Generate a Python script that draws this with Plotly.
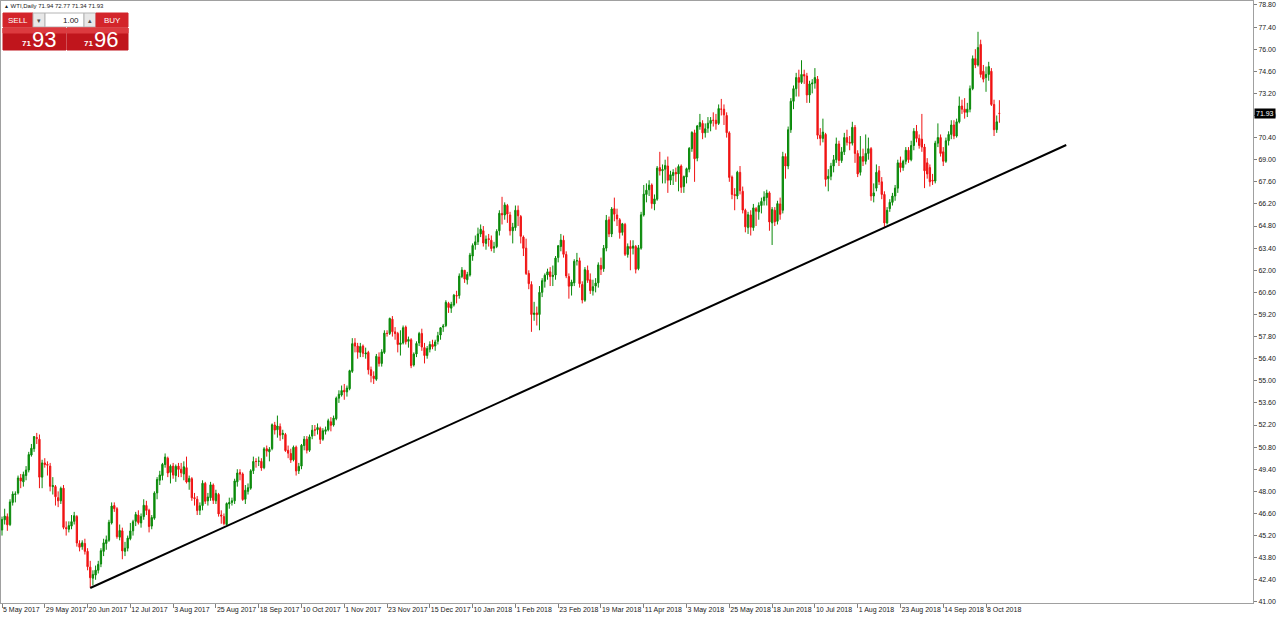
import pandas as pd
import plotly.graph_objects as go

# WTI daily bars, 5 May 2017 .. 15 Oct 2018 (weekdays, broker closed on these days)
holidays = ["2017-12-25", "2018-01-01", "2018-03-30"]
dates = [d.strftime("%Y-%m-%d") for d in pd.bdate_range("2017-05-05", "2018-10-15")
         if d.strftime("%Y-%m-%d") not in holidays]

# one row = 16 bars (one time-axis label step)
opens = [
    45.55, 46.20, 46.40, 45.90, 47.30, 47.80, 47.90, 48.85, 48.60, 49.00, 49.35, 50.30, 50.70, 51.40, 51.30, 48.90,
    49.80, 49.70, 49.60, 48.30, 48.30, 47.60, 47.40, 48.20, 45.70, 45.60, 45.80, 46.10, 46.40, 44.70, 44.50, 44.70,
    44.20, 43.20, 42.50, 42.70, 43.00, 43.40, 44.20, 44.70, 44.90, 46.00, 47.10, 46.90, 45.10, 45.50, 44.20, 44.40,
    45.00, 45.50, 46.10, 46.50, 46.00, 46.40, 47.10, 46.80, 45.80, 46.30, 47.90, 48.70, 49.00, 49.70, 50.10, 49.20,
    49.60, 49.00, 49.60, 49.40, 49.10, 49.50, 48.60, 48.80, 47.60, 47.50, 46.80, 47.10, 48.50, 47.40, 47.60, 48.40,
    47.40, 47.80, 46.50, 46.40, 45.90, 47.20, 47.30, 47.40, 48.60, 49.20, 49.10, 47.50, 48.00, 48.20, 49.30, 49.90,
    49.90, 49.90, 49.50, 50.70, 50.50, 50.70, 52.20, 51.90, 52.10, 51.60, 51.60, 50.60, 50.40, 50.00, 50.80, 49.30,
    49.60, 50.90, 51.30, 50.60, 51.50, 51.90, 51.90, 52.00, 51.30, 51.80, 51.90, 52.40, 52.20, 52.60, 53.90, 54.10,
    54.40, 54.30, 54.50, 55.60, 57.40, 57.20, 56.80, 57.20, 56.70, 56.80, 55.70, 55.30, 55.10, 56.50, 56.10, 56.80,
    58.00, 58.00, 58.90, 58.10, 58.00, 57.30, 57.40, 58.40, 57.50, 57.60, 56.00, 56.70, 57.40, 58.00, 57.10, 56.60,
    57.00, 57.30, 57.20, 57.50, 57.90, 58.40, 58.50, 59.90, 59.60, 59.80, 60.40, 60.40, 61.60, 62.00, 61.40, 61.70,
    62.90, 63.60, 63.80, 64.30, 64.50, 63.70, 64.00, 63.90, 63.40, 63.50, 64.50, 65.60, 65.50, 66.10, 65.50, 64.50,
    64.70, 65.80, 65.40, 64.10, 63.40, 61.80, 61.10, 59.20, 59.30, 59.20, 60.60, 61.30, 61.70, 61.90, 61.60, 61.70,
    62.80, 63.50, 63.90, 63.00, 61.60, 61.00, 61.20, 62.60, 62.60, 61.10, 60.10, 62.00, 61.40, 60.70, 61.00, 61.20,
    62.30, 62.10, 63.40, 65.20, 64.30, 65.90, 65.50, 65.20, 64.40, 64.90, 63.00, 63.50, 63.40, 63.50, 62.10, 63.40,
    65.50, 66.80, 67.10, 67.40, 66.20, 66.50, 68.50, 68.30, 68.40, 68.60, 67.70, 68.00, 68.20, 68.10, 68.60, 67.30,
    67.90, 68.40, 69.70, 70.70, 69.10, 71.10, 71.30, 70.70, 71.00, 71.30, 71.50, 71.50, 71.30, 72.20, 72.20, 71.80,
    70.70, 67.90, 66.80, 66.70, 68.20, 67.00, 65.80, 64.70, 65.50, 64.70, 65.90, 65.70, 66.10, 66.40, 66.60, 66.90,
    65.00, 65.80, 65.10, 66.20, 65.80, 69.20, 68.60, 70.90, 72.70, 73.50, 74.20, 73.90, 74.40, 74.30, 73.10, 73.80,
    73.85, 74.10, 70.55, 70.35, 70.60, 67.80, 67.95, 68.60, 69.00, 70.00, 68.95, 69.50, 70.40, 70.10, 70.05, 71.05,
    69.40, 68.20, 69.20, 68.90, 69.40, 69.70, 66.70, 67.20, 68.30, 67.60, 66.80, 65.00, 65.90, 66.30, 66.70, 67.20,
    68.80, 68.50, 68.90, 69.60, 69.00, 69.90, 70.80, 70.35, 70.30, 69.80, 68.80, 68.50, 67.70, 67.65, 70.05, 70.40,
    69.50, 68.90, 70.20, 70.60, 71.20, 70.50, 71.40, 72.40, 72.20, 72.00, 72.20, 73.50, 75.40, 75.00, 76.30, 74.60,
    74.20, 74.40, 74.60, 72.50, 70.90, 71.94,
]
highs = [
    46.40, 46.90, 46.60, 47.50, 48.00, 48.00, 49.00, 49.10, 49.25, 49.60, 50.50, 51.00, 51.50, 51.70, 51.60, 50.00,
    50.10, 49.90, 49.80, 48.90, 48.40, 48.00, 48.30, 48.40, 46.10, 46.10, 46.50, 46.70, 46.50, 44.90, 44.90, 45.00,
    44.40, 43.60, 43.00, 43.30, 43.60, 44.40, 45.00, 45.20, 46.20, 47.30, 47.30, 47.00, 45.90, 45.70, 44.80, 45.20,
    46.00, 46.20, 46.70, 46.80, 46.60, 47.50, 47.40, 46.90, 46.50, 48.00, 48.90, 49.30, 49.80, 50.40, 50.20, 49.70,
    49.80, 49.70, 49.80, 49.80, 49.90, 50.20, 49.00, 48.90, 47.90, 47.70, 47.30, 48.70, 48.60, 47.90, 48.60, 48.50,
    48.10, 47.90, 46.80, 46.60, 47.30, 47.60, 47.60, 48.80, 49.40, 49.40, 49.20, 48.40, 48.50, 49.40, 50.20, 50.10,
    50.20, 50.10, 50.80, 50.90, 50.80, 52.30, 52.40, 52.80, 52.30, 51.90, 51.70, 50.90, 50.70, 50.90, 50.90, 49.80,
    51.00, 51.50, 51.50, 51.60, 52.20, 52.20, 52.30, 52.10, 52.00, 52.10, 52.60, 52.70, 52.80, 54.00, 54.40, 54.70,
    54.80, 54.70, 55.70, 57.70, 57.70, 57.40, 57.40, 57.30, 57.10, 56.90, 55.90, 55.60, 56.70, 56.80, 57.00, 58.20,
    58.20, 59.00, 59.10, 58.40, 58.10, 58.20, 58.50, 58.50, 57.80, 57.70, 56.80, 57.50, 58.10, 58.30, 57.40, 57.20,
    57.50, 57.60, 57.60, 58.10, 58.40, 58.60, 60.10, 60.00, 60.00, 60.50, 60.70, 61.80, 62.20, 62.00, 61.90, 63.10,
    63.70, 64.20, 64.70, 64.90, 64.80, 64.20, 64.30, 64.20, 63.80, 64.60, 65.80, 66.65, 66.30, 66.20, 65.70, 65.00,
    66.10, 66.10, 65.50, 64.20, 64.00, 62.00, 61.30, 60.00, 59.70, 61.00, 61.50, 61.80, 62.10, 62.20, 62.30, 62.90,
    63.60, 64.30, 64.20, 63.20, 61.80, 61.40, 62.70, 63.10, 62.80, 61.30, 62.20, 62.30, 61.80, 61.40, 61.50, 62.50,
    62.80, 63.60, 65.50, 65.40, 66.00, 66.60, 65.90, 65.30, 65.00, 65.00, 63.70, 63.90, 63.90, 63.60, 63.60, 65.70,
    67.40, 67.50, 67.70, 67.50, 66.80, 68.60, 69.50, 68.70, 69.00, 69.20, 68.30, 68.40, 68.50, 68.70, 68.70, 68.00,
    68.50, 69.80, 70.80, 70.90, 71.20, 71.90, 71.50, 71.30, 71.70, 71.70, 72.00, 71.90, 72.50, 72.85, 72.50, 72.00,
    70.80, 68.00, 67.20, 68.30, 68.60, 67.30, 65.90, 65.70, 65.80, 66.20, 66.00, 66.30, 66.60, 67.00, 67.10, 67.00,
    66.00, 66.00, 66.40, 66.60, 69.50, 69.40, 71.10, 72.90, 73.70, 74.50, 74.70, 75.30, 74.70, 74.50, 74.00, 74.10,
    74.80, 74.30, 71.00, 71.60, 70.70, 68.40, 68.80, 69.30, 70.40, 70.20, 69.80, 70.70, 70.90, 70.50, 71.40, 71.20,
    69.60, 70.50, 69.70, 70.60, 70.40, 69.80, 67.50, 68.70, 68.60, 67.90, 67.00, 66.00, 66.50, 66.90, 67.40, 69.00,
    69.20, 69.00, 69.80, 69.80, 70.20, 71.00, 71.20, 70.60, 71.90, 70.00, 69.10, 68.70, 68.10, 70.20, 71.30, 70.60,
    69.80, 70.40, 70.80, 71.50, 71.50, 71.60, 73.00, 72.80, 72.90, 72.60, 73.70, 75.60, 76.00, 77.10, 76.60, 75.00,
    74.90, 75.20, 74.80, 72.80, 71.80, 72.77,
]
lows = [
    45.20, 45.90, 45.50, 45.80, 47.10, 47.30, 47.80, 48.20, 48.30, 48.70, 49.20, 50.20, 50.50, 51.00, 48.20, 48.20,
    49.50, 49.00, 48.00, 47.80, 47.10, 47.00, 47.20, 45.60, 45.20, 45.40, 45.60, 45.90, 44.50, 44.20, 44.30, 44.00,
    43.00, 41.90, 42.05, 42.40, 42.80, 43.20, 43.90, 44.30, 44.80, 45.90, 46.70, 45.00, 44.90, 43.70, 43.90, 44.20,
    44.90, 45.20, 45.80, 45.90, 45.70, 46.20, 46.50, 45.40, 45.60, 46.20, 47.50, 48.40, 48.70, 49.50, 48.90, 48.50,
    48.80, 48.60, 48.90, 48.90, 48.70, 48.50, 48.10, 47.40, 47.10, 46.50, 46.50, 46.80, 47.20, 47.10, 47.40, 47.20,
    47.20, 46.40, 45.95, 45.85, 45.95, 46.90, 47.10, 47.20, 48.30, 48.70, 47.40, 47.20, 47.80, 48.10, 49.10, 49.50,
    49.60, 49.30, 49.40, 50.20, 49.90, 50.60, 51.60, 51.40, 51.20, 51.30, 50.50, 50.10, 49.80, 49.90, 49.00, 49.10,
    49.40, 50.60, 50.40, 50.50, 51.30, 51.50, 51.60, 51.00, 51.20, 51.60, 51.80, 51.80, 52.10, 52.50, 53.60, 54.00,
    53.80, 54.00, 54.40, 55.50, 56.80, 56.40, 56.50, 56.50, 56.40, 55.40, 54.90, 54.80, 55.00, 55.90, 55.90, 56.70,
    57.80, 57.90, 57.80, 57.60, 56.80, 56.60, 57.30, 57.30, 57.10, 55.80, 55.90, 56.50, 57.20, 56.90, 56.10, 56.40,
    56.80, 57.00, 56.90, 57.30, 57.60, 58.10, 58.40, 59.30, 59.30, 59.70, 59.90, 60.20, 61.50, 61.20, 61.10, 61.60,
    62.60, 63.30, 63.60, 64.10, 63.50, 63.30, 63.50, 63.20, 63.10, 63.40, 64.20, 64.90, 65.20, 65.00, 64.20, 63.70,
    64.50, 64.80, 63.70, 62.90, 61.70, 60.80, 58.10, 58.80, 58.50, 58.20, 60.30, 60.90, 61.40, 61.00, 61.00, 61.40,
    62.50, 63.20, 62.80, 61.50, 60.20, 60.40, 61.00, 62.30, 60.90, 59.90, 60.00, 61.20, 60.50, 60.40, 60.60, 60.90,
    61.70, 61.90, 63.20, 64.10, 64.10, 65.10, 64.80, 64.00, 64.20, 62.90, 62.80, 62.00, 63.00, 61.80, 62.00, 63.30,
    65.40, 66.30, 66.70, 65.90, 65.80, 66.40, 68.00, 67.50, 67.50, 66.90, 67.40, 67.40, 67.60, 67.00, 66.90, 66.90,
    67.50, 68.20, 69.50, 67.60, 68.90, 70.90, 70.30, 70.40, 70.70, 70.80, 71.10, 70.90, 71.20, 71.80, 71.20, 70.40,
    67.60, 66.50, 65.80, 66.50, 66.80, 65.60, 64.40, 64.30, 64.20, 64.50, 64.80, 65.20, 65.60, 66.10, 66.10, 64.50,
    63.60, 64.80, 64.90, 65.20, 65.60, 67.80, 68.40, 70.70, 72.20, 73.00, 73.00, 73.80, 73.80, 72.60, 72.60, 73.20,
    73.50, 70.30, 69.90, 70.10, 67.30, 67.00, 67.70, 68.20, 68.80, 68.60, 68.80, 69.30, 69.90, 69.60, 69.90, 68.80,
    67.90, 68.00, 68.60, 68.70, 69.00, 66.40, 66.30, 67.00, 67.40, 66.50, 64.75, 64.90, 65.70, 66.10, 66.40, 66.90,
    68.20, 68.30, 68.70, 68.80, 68.90, 69.60, 70.10, 69.70, 69.50, 67.20, 67.80, 67.30, 67.40, 67.50, 69.80, 69.20,
    68.60, 68.80, 69.90, 70.30, 70.30, 70.40, 71.30, 71.90, 71.60, 71.70, 72.00, 73.40, 74.80, 74.90, 74.20, 73.90,
    73.30, 74.00, 72.40, 70.50, 70.70, 71.34,
]
closes = [
    46.22, 46.43, 45.88, 47.33, 47.83, 47.84, 48.85, 48.66, 49.07, 49.35, 50.33, 50.73, 51.47, 51.36, 48.90, 49.80,
    49.70, 49.66, 48.32, 48.36, 47.66, 47.40, 48.19, 45.72, 45.64, 45.83, 46.08, 46.46, 44.73, 44.46, 44.74, 44.20,
    43.23, 42.53, 42.74, 43.01, 43.38, 44.24, 44.74, 44.93, 46.04, 47.07, 46.90, 45.13, 45.52, 44.23, 44.40, 45.04,
    45.49, 46.08, 46.54, 46.02, 46.40, 47.12, 46.79, 45.77, 46.34, 47.89, 48.75, 49.04, 49.71, 50.17, 49.16, 49.59,
    49.03, 49.58, 49.39, 49.17, 49.56, 48.59, 48.82, 47.59, 47.55, 46.78, 47.09, 48.51, 47.37, 47.64, 48.41, 47.43,
    47.87, 46.57, 46.44, 45.96, 47.23, 47.29, 47.40, 48.66, 49.16, 49.09, 47.48, 48.07, 48.23, 49.30, 49.89, 49.89,
    49.91, 49.48, 50.69, 50.55, 50.66, 52.22, 51.88, 52.14, 51.56, 51.67, 50.58, 50.42, 49.98, 50.79, 49.29, 49.58,
    50.92, 51.30, 50.60, 51.45, 51.87, 51.88, 52.04, 51.29, 51.84, 51.90, 52.47, 52.18, 52.64, 53.90, 54.15, 54.38,
    54.30, 54.54, 55.64, 57.35, 57.20, 56.81, 57.17, 56.74, 56.76, 55.70, 55.33, 55.14, 56.55, 56.09, 56.83, 58.02,
    58.00, 58.95, 58.11, 57.99, 57.30, 57.40, 58.36, 57.47, 57.62, 55.96, 56.69, 57.36, 57.99, 57.14, 56.60, 57.04,
    57.30, 57.16, 57.46, 57.86, 58.36, 58.47, 59.97, 59.64, 59.84, 60.42, 60.37, 61.63, 62.01, 61.44, 61.73, 62.96,
    63.57, 63.80, 64.30, 64.60, 63.73, 63.97, 63.95, 63.37, 63.49, 64.47, 65.61, 65.51, 66.14, 65.56, 64.50, 64.73,
    65.80, 65.45, 64.15, 63.39, 61.79, 61.15, 59.20, 59.29, 59.19, 60.60, 61.34, 61.68, 61.90, 61.60, 61.68, 62.77,
    63.55, 63.91, 63.01, 61.64, 60.99, 61.25, 62.57, 62.60, 61.15, 60.12, 62.04, 61.36, 60.71, 60.96, 61.19, 62.34,
    62.06, 63.40, 65.17, 64.30, 65.88, 65.55, 65.25, 64.38, 64.94, 63.01, 63.51, 63.37, 63.54, 62.06, 63.42, 65.51,
    66.82, 67.07, 67.39, 66.22, 66.52, 68.47, 68.29, 68.38, 68.64, 67.70, 68.05, 68.19, 68.10, 68.57, 67.25, 67.93,
    68.43, 69.72, 70.73, 69.06, 71.14, 71.36, 70.70, 70.96, 71.31, 71.49, 71.49, 71.28, 72.24, 72.20, 71.84, 70.71,
    67.88, 66.80, 66.73, 68.21, 67.04, 65.81, 64.75, 65.52, 64.73, 65.95, 65.74, 66.10, 66.36, 66.64, 66.89, 65.06,
    65.85, 65.07, 66.22, 65.54, 69.20, 68.60, 70.90, 72.70, 73.50, 74.20, 73.90, 74.40, 74.30, 73.10, 73.80, 73.85,
    74.20, 70.55, 70.35, 70.75, 67.75, 67.95, 68.60, 69.00, 70.00, 68.95, 69.50, 70.40, 70.10, 70.05, 71.05, 69.40,
    68.10, 69.20, 68.90, 69.40, 69.70, 66.70, 66.90, 68.20, 67.60, 66.80, 65.00, 65.80, 66.30, 66.70, 67.20, 68.80,
    68.50, 68.90, 69.60, 69.00, 69.90, 70.80, 70.35, 69.90, 69.80, 68.30, 68.10, 67.60, 67.65, 70.05, 70.40, 69.40,
    68.90, 70.20, 70.60, 71.20, 70.50, 71.40, 72.40, 72.20, 72.00, 72.20, 73.50, 75.40, 75.00, 76.10, 74.40, 74.10,
    74.40, 74.90, 72.50, 70.90, 71.40, 71.93,
]

tick_labels = ["5 May 2017", "29 May 2017", "20 Jun 2017", "12 Jul 2017", "3 Aug 2017", "25 Aug 2017",
               "18 Sep 2017", "10 Oct 2017", "1 Nov 2017", "23 Nov 2017", "15 Dec 2017", "10 Jan 2018",
               "1 Feb 2018", "23 Feb 2018", "19 Mar 2018", "11 Apr 2018", "3 May 2018", "25 May 2018",
               "18 Jun 2018", "10 Jul 2018", "1 Aug 2018", "23 Aug 2018", "14 Sep 2018", "8 Oct 2018"]
price_ticks = [41.00, 42.40, 43.80, 45.20, 46.60, 48.00, 49.40, 50.80, 52.20, 53.60, 55.00, 56.40, 57.80, 59.20,
               60.60, 62.00, 63.40, 64.80, 66.20, 67.60, 69.00, 70.40, 71.80, 73.20, 74.60, 76.00, 77.40, 78.80]

# hand drawn support line: bar index / price at both ends
trend_bars = [33, 398]
trend_prices = [41.88, 69.93]

bid, ask = 71.93, 71.96

# page geometry (pixels)
W, H = 1280, 618
ML, MR, MT, MB = 1, 27, 1, 15
PW, PH = W - ML - MR, H - MT - MB
BAR_PX = 2.674  # horizontal pixels per bar


def px(x):
    return (x - ML) / PW


def py(y):
    return 1 - (y - MT) / PH


GREEN = "#0a8a0a"
RED = "#f01414"
PANEL_RED = "#d3242a"
PANEL_DARK = "#c0151c"

fig = go.Figure(go.Candlestick(
    x=dates, open=opens, high=highs, low=lows, close=closes,
    increasing=dict(line=dict(color=GREEN, width=1), fillcolor=GREEN),
    decreasing=dict(line=dict(color=RED, width=1), fillcolor=RED),
    whiskerwidth=0, hoverinfo="skip", showlegend=False,
))

shapes = [dict(type="line", xref="x", yref="y",
               x0=trend_bars[0], y0=trend_prices[0], x1=trend_bars[1], y1=trend_prices[1],
               line=dict(color="black", width=2))]

# one-click trading panel
panel = [
    (3, 13, 33, 27, PANEL_RED, PANEL_RED),
    (33, 13, 45, 27, "#e8e8e8", "#b4b4b4"),
    (45, 13, 84, 27, "white", "#b4b4b4"),
    (84, 13, 96, 27, "#e8e8e8", "#b4b4b4"),
    (96, 13, 128, 27, PANEL_RED, PANEL_RED),
    (3, 28, 66, 50, PANEL_DARK, PANEL_DARK),
    (67, 28, 128, 50, PANEL_DARK, PANEL_DARK),
    (3, 28, 66, 33, "#dc3a3f", "#dc3a3f"),
    (67, 28, 128, 33, "#dc3a3f", "#dc3a3f"),
]
for x0, y0, x1, y1, fill, edge in panel:
    shapes.append(dict(type="rect", xref="paper", yref="paper",
                       x0=px(x0), y0=py(y1), x1=px(x1), y1=py(y0),
                       fillcolor=fill, line=dict(color=edge, width=1), layer="above"))


def label(x, y, text, size, color="white", anchor="center", bold=False):
    if bold:
        text = "<b>" + text + "</b>"
    return dict(xref="paper", yref="paper", x=px(x), y=py(y), text=text, showarrow=False,
                xanchor=anchor, yanchor="middle",
                font=dict(size=size, color=color, family="Liberation Sans"))


big_sell = f"{bid:.2f}".split(".")
big_ask = f"{ask:.2f}".split(".")
header = (f"<span style='font-size:5px'>▲</span> WTI,Daily "
          f"{opens[-1]:.2f} {highs[-1]:.2f} {lows[-1]:.2f} {closes[-1]:.2f}")

annotations = [
    label(2, 6, header, 6, "#202020", "left"),
    label(18, 20, "SELL", 8),
    label(112, 20, "BUY", 8),
    label(39, 20, "▾", 7, "#505050"),
    label(90, 20, "▴", 7, "#505050"),
    label(81, 20, "1.00", 8, "#202020", "right"),
    label(26, 44, big_sell[0], 8, bold=True),
    label(44, 39.5, big_sell[1], 22),
    label(88, 44, big_ask[0], 8, bold=True),
    label(106, 39.5, big_ask[1], 22),
    dict(xref="paper", yref="y", x=1, y=closes[-1], text=f"{closes[-1]:.2f}", showarrow=False,
         xanchor="left", yanchor="middle", xshift=1, bgcolor="black", borderpad=1,
         font=dict(size=7, color="white", family="Liberation Sans")),
]

fig.update_layout(
    width=W, height=H,
    margin=dict(l=ML, r=MR, t=MT, b=MB, autoexpand=False),
    paper_bgcolor="white", plot_bgcolor="white",
    font=dict(family="Liberation Sans", size=7, color="#202020"),
    shapes=shapes, annotations=annotations,
    showlegend=False,
)
fig.update_xaxes(
    type="category", rangeslider_visible=False, automargin=False,
    range=[(ML - 2) / BAR_PX, (W - MR - 2) / BAR_PX],
    tickmode="array", tickvals=dates[::16], ticktext=tick_labels, tickangle=0,
    ticks="outside", ticklen=4, tickcolor="#808080", ticklabelposition="outside right",
    showgrid=False, zeroline=False,
    showline=True, linecolor="#a0a0a0", linewidth=1, mirror=True,
)
fig.update_yaxes(
    side="right", range=[40.93, 79.05], automargin=False,
    tickmode="array", tickvals=price_ticks, ticktext=[f"{v:.2f}" for v in price_ticks],
    ticks="outside", ticklen=3, tickcolor="#808080",
    showgrid=False, zeroline=False,
    showline=True, linecolor="#a0a0a0", linewidth=1, mirror=True,
)

# the page's default body margin would push the fixed-size figure off the window
fig.write_html("out.html", config={"displayModeBar": False},
               post_script="document.body.style.margin = '0';")
